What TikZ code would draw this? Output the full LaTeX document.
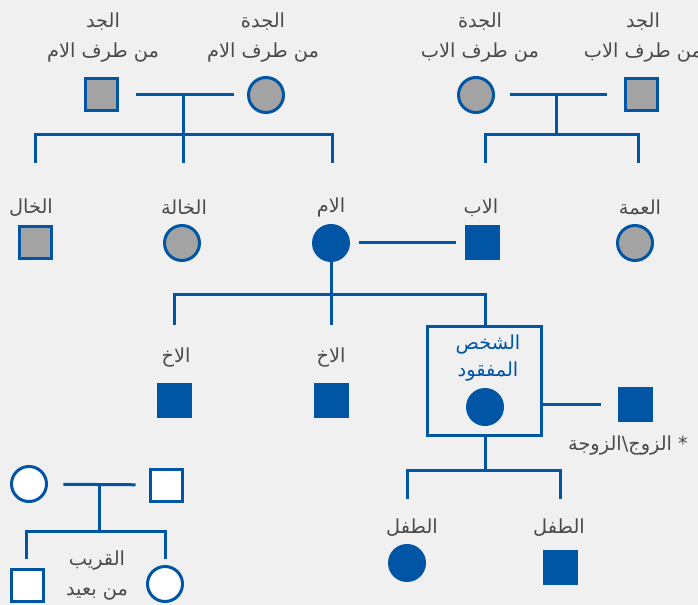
\documentclass[tikz,border=0pt]{standalone}
\usepackage{fontspec}
\newfontfamily\arabicfont[Script=Arabic]{DejaVu Sans}
\TeXXeTstate=1
\definecolor{pblue}{HTML}{0055A4}
\definecolor{pgray}{HTML}{A3A3A3}
\definecolor{ptext}{HTML}{4A4A4A}
\definecolor{pbg}{HTML}{F0F0F0}
\begin{document}
\begin{tikzpicture}[x=0.75pt,y=-0.75pt,
  link/.style={draw=pblue,line width=2.25pt},
  male/.style={rectangle,draw=pblue,line width=2.25pt,minimum size=24pt,inner sep=0pt},
  female/.style={circle,draw=pblue,line width=2.25pt,minimum size=26.25pt,inner sep=0pt},
  aff/.style={fill=pblue},
  grey/.style={fill=pgray},
  blank/.style={fill=white},
  lbl/.style={text=ptext,font=\arabicfont\fontsize{14.5}{22.5}\selectfont,align=center,inner sep=0pt,yshift=-1.8pt},
  blbl/.style={text=pblue,font=\arabicfont\fontsize{14.5}{20.25}\selectfont,align=center,inner sep=0pt,yshift=-1.5pt},
]
\fill[pbg] (0,0) rectangle (698,605);
\useasboundingbox (0,0) rectangle (698,605);

% maternal grandparents
\node[male,grey] (mgf) at (101,95) {};
\node[female,grey] (mgm) at (266,95) {};
\node[lbl] (mgfl) at (103,35) {\beginR الجد\endR\\\beginR من طرف الام\endR};
\node[lbl] (mgml) at (263,35) {\beginR الجدة\endR\\\beginR من طرف الام\endR};
\draw[link,shorten <=13pt,shorten >=9.4pt] (mgf) -- (mgm);
\coordinate (mj) at (183,95);
\coordinate (mc1) at (35,163);
\coordinate (mc1t) at (35,135);
\coordinate (mc2) at (183,163);
\coordinate (mc3t) at (332,135);
\coordinate (mc3) at (332,163);
\draw[link] (mj) -- (mc2);
\draw[link] (mc1) -- (mc1t) -- (mc3t) -- (mc3);

% paternal grandparents
\node[female,grey] (pgm) at (476,95) {};
\node[male,grey] (pgf) at (641,95) {};
\node[lbl] (pgml) at (480,35) {\beginR الجدة\endR\\\beginR من طرف الاب\endR};
\node[lbl] (pgfl) at (643,35) {\beginR الجد\endR\\\beginR من طرف الاب\endR};
\draw[link,shorten <=11pt,shorten >=12.75pt] (pgm) -- (pgf);
\coordinate (pj) at (556,95);
\coordinate (pc1) at (485,163);
\coordinate (pc1t) at (485,135);
\coordinate (pc2t) at (638,135);
\coordinate (pc2) at (638,163);
\coordinate (pjb) at (556,135);
\draw[link] (pj) -- (pjb);
\draw[link] (pc1) -- (pc1t) -- (pc2t) -- (pc2);

% parents generation
\node[male,grey] (unc) at (35,243) {};
\node[female,grey] (aunm) at (182,243) {};
\node[female,aff] (mom) at (331,243) {};
\node[male,aff] (dad) at (482,243) {};
\node[female,grey] (aunp) at (635,243) {};
\node[lbl] (uncl) at (31,205) {\beginR الخال\endR};
\node[lbl] (aunml) at (184,205) {\beginR الخالة\endR};
\node[lbl] (moml) at (331,205) {\beginR الام\endR};
\node[lbl] (dadl) at (481,205) {\beginR الاب\endR};
\node[lbl] (aunpl) at (640,205) {\beginR العمة\endR};
\draw[link,shorten <=6.4pt,shorten >=6.75pt] (mom) -- (dad);

% siblings
\coordinate (s1) at (174,325);
\coordinate (s1t) at (174,295);
\coordinate (s2) at (331,325);
\coordinate (s3t) at (485,295);
\node[draw=pblue,line width=2.25pt,minimum width=85.5pt,minimum height=81.75pt,inner sep=0pt] (mp) at (484.5,381) {};
\draw[link] (mom) -- (s2);
\draw[link] (s1) -- (s1t) -- (s3t) -- (mp.north -| s3t);
\node[male,aff] (sib1) at (174,400) {};
\node[male,aff] (sib2) at (331,400) {};
\node[lbl] (sib1l) at (176,355) {\beginR الاخ\endR};
\node[lbl] (sib2l) at (331,355) {\beginR الاخ\endR};

% missing person
\node[blbl] (mpl) at (488,356.5) {\beginR الشخص\endR\\\beginR المفقود\endR};
\node[female,aff] (mpc) at (485,407) {};
\node[male,aff] (sp) at (635,404) {};
\node[lbl] (spl) at (628,443) {\beginR * الزوج\textbackslash الزوجة\endR};
\draw[link,shorten >=12.75pt] (mp.east |- sp) -- (sp);

% children
\coordinate (kj) at (485,470);
\coordinate (k1) at (407,499);
\coordinate (k1t) at (407,470);
\coordinate (k2t) at (560,470);
\coordinate (k2) at (560,499);
\draw[link] (mp.south -| kj) -- (kj);
\draw[link] (k1) -- (k1t) -- (k2t) -- (k2);
\node[female,aff] (kid1) at (407,563) {};
\node[male,aff] (kid2) at (560,567) {};
\node[lbl] (kid1l) at (412,525) {\beginR الطفل\endR};
\node[lbl] (kid2l) at (559,525) {\beginR الطفل\endR};

% distant relative legend
\node[female,blank] (lf) at (29,484) {};
\node[male,blank] (lm) at (166,485) {};
\draw[link,shorten <=11.6pt,shorten >=9.75pt] (lf) -- (lm);
\coordinate (lj) at (99,485);
\coordinate (lc1) at (26,559);
\coordinate (lc1t) at (26,531);
\coordinate (lc2t) at (165,531);
\coordinate (lc2) at (165,559);
\coordinate (ljb) at (99,531);
\draw[link] (lj) -- (ljb);
\draw[link] (lc1) -- (lc1t) -- (lc2t) -- (lc2);
\node[male,blank] (ls) at (27,585) {};
\node[female,blank] (lc) at (165,584) {};
\node[lbl] (lcl) at (97,573) {\beginR القريب\endR\\\beginR من بعيد\endR};
\end{tikzpicture}
\end{document}
